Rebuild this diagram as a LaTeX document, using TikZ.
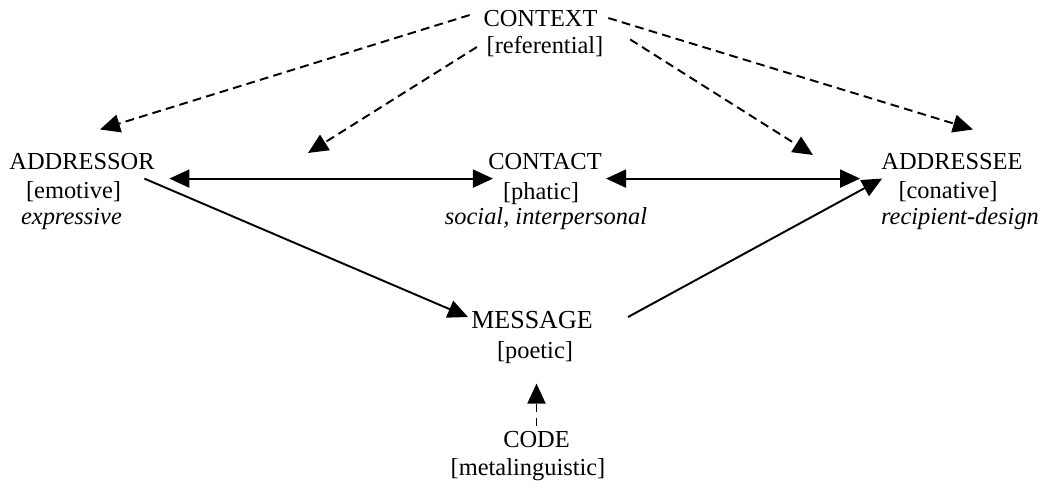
\documentclass[tikz,border=0pt]{standalone}
\usepackage{fontspec}
\setmainfont{Liberation Serif}
\usetikzlibrary{arrows.meta,calc}

\begin{document}
\begin{tikzpicture}[x=0.02cm, y=-0.02cm,
    every node/.style={inner sep=0pt, anchor=base, font=\fontsize{13.9}{16}\selectfont},
    >={Triangle[length=0.4cm, width=0.36cm]},
    link/.style={line width=1.1pt, ->},
    hint/.style={link, dash pattern=on 5pt off 3pt}]
    \useasboundingbox (0,0) rectangle (1048,493);
    % the six functions
    \node (context) at (540.5,27) {CONTEXT};
    \node (context-role) at (545,54) {[referential]};
    \node (addressor) at (82,170) {ADDRESSOR};
    \node (addressor-role) at (73.5,199) {[emotive]};
    \node (addressor-gloss) at (71.5,225) {\textit{expressive}};
    \node (contact) at (545,170) {CONTACT};
    \node (contact-role) at (541,200) {[phatic]};
    \node (contact-gloss) at (546,225) {\textit{social, interpersonal}};
    \node (addressee) at (952,170) {ADDRESSEE};
    \node (addressee-role) at (948,199) {[conative]};
    \node (addressee-gloss) at (960,225) {\textit{recipient-design}};
    \node[font=\fontsize{14.8}{16}\selectfont] (message) at (532,328) {MESSAGE};
    \node (message-role) at (535,358) {[poetic]};
    \node (code) at (536.5,447) {CODE};
    \node (code-role) at (528,475) {[metalinguistic]};
    \coordinate (channel-left) at (308,153);
    \coordinate (channel-right) at (813,155);
    % context
    \draw[hint] ($(context.west)+(-13.5,-4)$) -- ($(addressor.north)+(18,-24)$);
    \draw[hint] ($(context-role.west)+(-9.5,0)$) -- (channel-left);
    \draw[hint] ($(context-role.north east)+(26.5,3)$) -- (channel-right);
    \draw[hint] ($(context.east)+(10.5,-1)$) -- ($(addressee.north)+(21,-24)$);
    % contact
    \draw[link, <->] ($(addressor.south east)+(14.4,8)$) -- ($(contact.south west)+(5,8)$);
    \draw[link, <->] ($(contact.south east)+(4,8)$) -- ($(addressee.south west)+(-21,8)$);
    % message
    \draw[link] ($(addressor.south east)+(-10.6,8)$) -- ($(message.west)+(-3,-2.5)$);
    \draw[link] ($(message.east)+(35,-2.5)$) -- ($(addressee.south west)+(1,8)$);
    \draw[hint, shorten <=0.08cm, shorten >=0.4cm] (code.north) -- (code.north |- message-role.south);
\end{tikzpicture}
\end{document}
